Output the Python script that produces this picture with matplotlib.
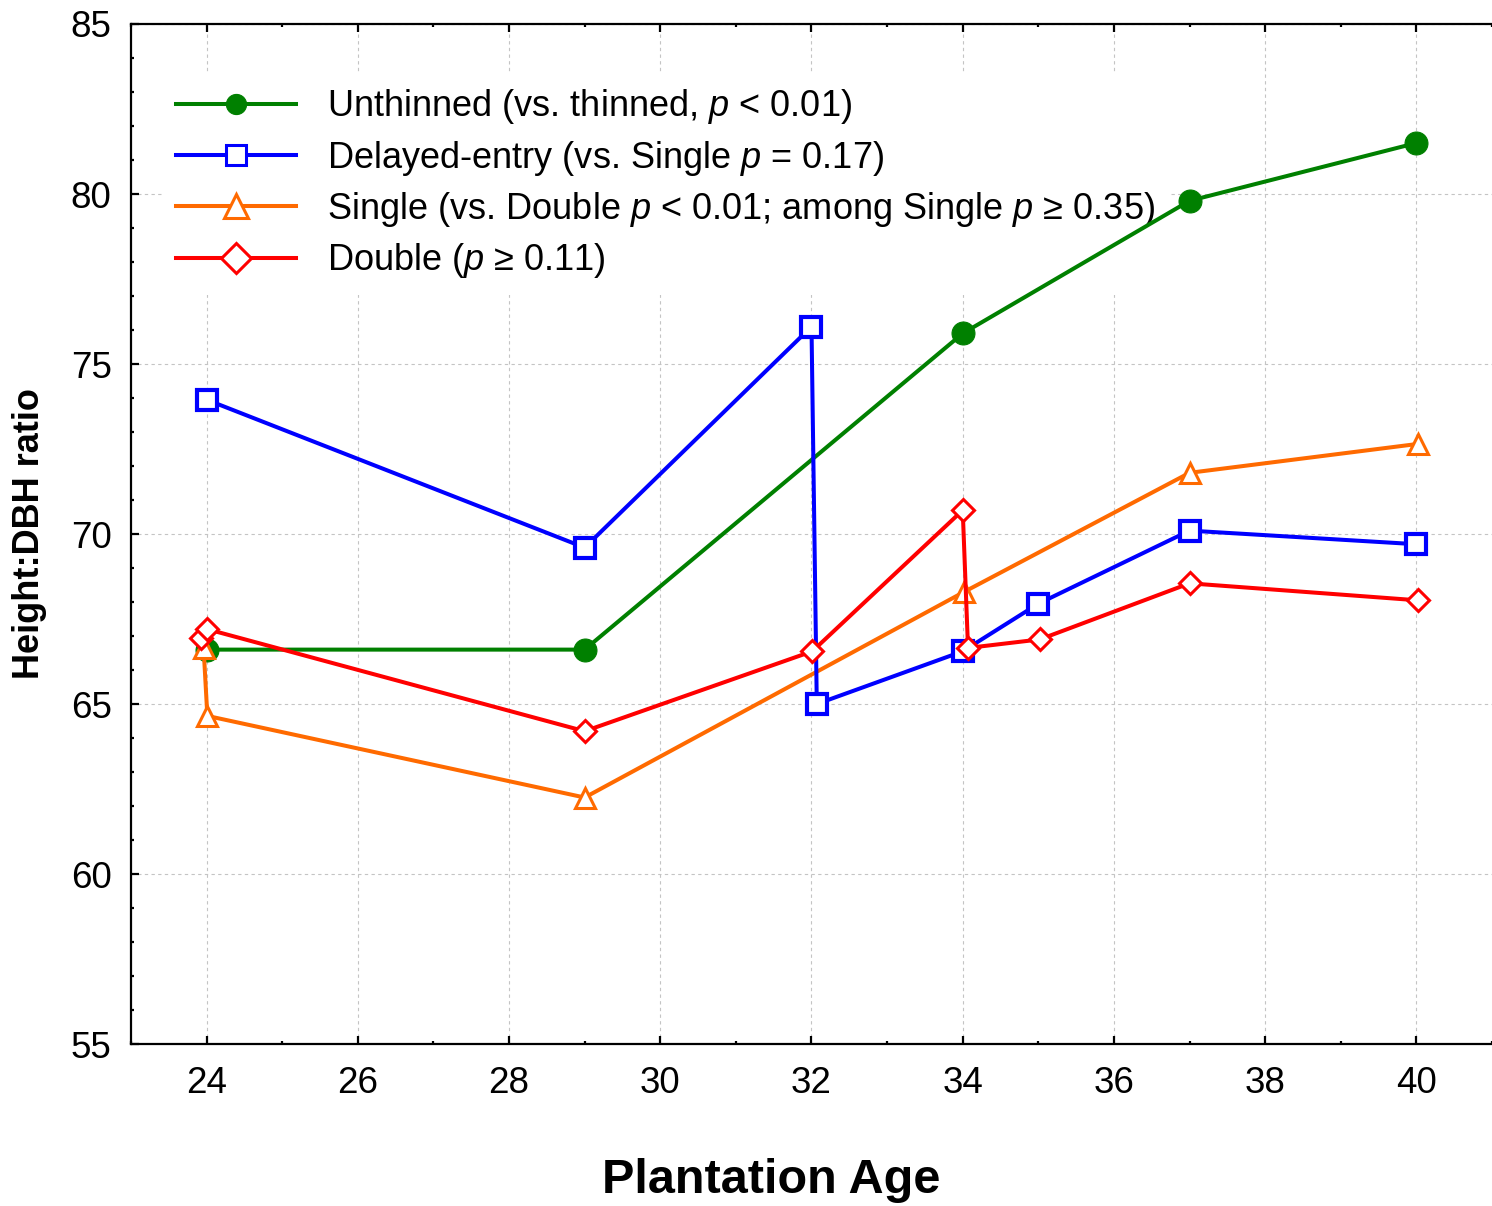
import numpy as np
import matplotlib.pyplot as plt
from matplotlib.ticker import MultipleLocator

plt.rcParams['font.family'] = ['Liberation Sans', 'DejaVu Sans']
plt.rcParams['mathtext.fontset'] = 'custom'
plt.rcParams['mathtext.it'] = 'Liberation Sans:italic'
plt.rcParams['mathtext.rm'] = 'Liberation Sans'

# plantation age / height:DBH ratio per thinning treatment
unthinned_age = [24.01, 29, 34, 37, 40]
unthinned_hd = [66.6, 66.6, 75.9, 79.8, 81.5]

delayed_age = [24, 29, 32, 32.07, 34, 35, 37, 40]
delayed_hd = [73.95, 69.6, 76.1, 65.0, 66.55, 67.95, 70.1, 69.7]

single_age = [23.96, 24.01, 29, 34.02, 37, 40.02]
single_hd = [66.65, 64.65, 62.25, 68.3, 71.8, 72.65]

double_age = [23.93, 24.01, 29, 32.01, 34, 34.07, 35.02, 37, 40.02]
double_hd = [66.95, 67.2, 64.2, 66.55, 70.7, 66.65, 66.9, 68.55, 68.05]

fig = plt.figure(figsize=(14.92, 12.06), dpi=100)
ax = fig.add_axes([0.0878, 0.1343, 0.9122, 0.8458])

lw = 2.9
ax.plot(unthinned_age, unthinned_hd, color='#008000', lw=lw, marker='o', ms=16.5,
        mfc='#008000', mec='#008000', mew=0.8,
        label='Unthinned (vs. thinned, $p$ < 0.01)', zorder=3)
ax.plot(delayed_age, delayed_hd, color='#0000FF', lw=lw, marker='s', ms=14,
        mfc='white', mec='#0000FF', mew=3.0,
        label='Delayed-entry (vs. Single $p$ = 0.17)', zorder=4)
ax.plot(single_age, single_hd, color='#FF6A00', lw=lw, marker='^', ms=15,
        mfc='white', mec='#FF6A00', mew=2.2,
        label='Single (vs. Double $p$ < 0.01; among Single $p$ \u2265 0.35)', zorder=3)
ax.plot(double_age, double_hd, color='#FF0000', lw=lw, marker='D', ms=11,
        mfc='white', mec='#FF0000', mew=2.2,
        label='Double ($p$ \u2265 0.11)', zorder=5)

ax.set_xlim(23, 41)
ax.set_ylim(55, 85)
ax.xaxis.set_major_locator(MultipleLocator(2))
ax.xaxis.set_minor_locator(MultipleLocator(1))
ax.yaxis.set_major_locator(MultipleLocator(5))
ax.yaxis.set_minor_locator(MultipleLocator(1))

ax.grid(True, which='major', color='#C4C4C4', ls=(0, (3, 3)), lw=0.8, zorder=0)
ax.set_axisbelow(True)

ax.spines['right'].set_visible(False)
for s in ['left', 'top', 'bottom']:
    ax.spines[s].set_linewidth(1.6)

ax.tick_params(which='both', direction='in', top=True, right=False, width=1.6)
ax.tick_params(which='major', length=6, labelsize=26.5)
ax.tick_params(which='minor', length=2)
ax.tick_params(axis='x', pad=16)
ax.tick_params(axis='y', pad=14)

ax.set_xlabel('Plantation Age', fontsize=35, fontweight='bold')
ax.xaxis.label.set_va('baseline')
ax.xaxis.set_label_coords((771 - 131) / 1361, (1044 - 1193) / 1020)
ax.set_ylabel('Height:DBH ratio', fontsize=26, fontweight='bold')
ax.yaxis.label.set_va('center')
ax.yaxis.set_label_coords((30 - 131) / 1361, 0.5)

leg = ax.legend(loc='upper left', bbox_to_anchor=(0.0228, 0.952), borderaxespad=0,
                fontsize=26, frameon=True, framealpha=1,
                facecolor='white', edgecolor='none', handlelength=3.3,
                labelspacing=0.34, handletextpad=0.86, fancybox=False)
# legend box sits above the grid but under the data lines
leg.set_zorder(2)

# slightly bigger open markers in the legend keys
for h, size, edge in zip(leg.legend_handles, [14.5, 14, 17, 15], [0.8, 2.2, 2.2, 2.2]):
    h.set_markersize(size)
    h.set_markeredgewidth(edge)

fig.savefig('out.png', dpi=100)
